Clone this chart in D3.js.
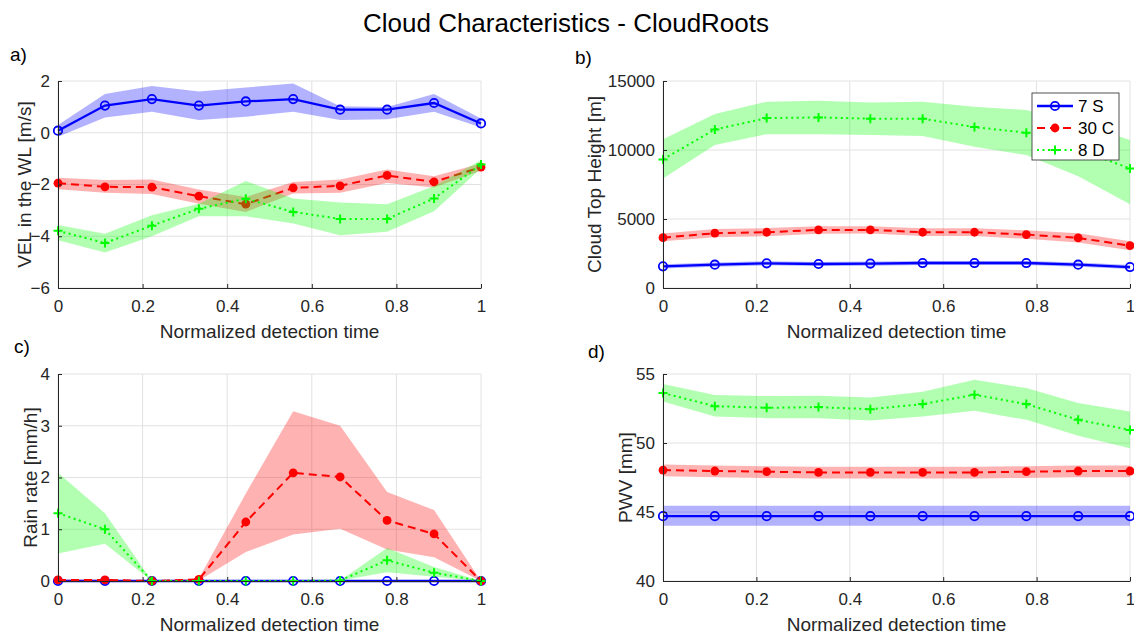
<!DOCTYPE html>
<html>
<head>
<meta charset="utf-8">
<script src="https://cdn.jsdelivr.net/npm/d3@7"></script>
<style>
  body { margin: 0; background: #fff; }
  svg { font-family: "Liberation Sans", Arial, Helvetica, sans-serif; }
</style>
</head>
<body>
<script>
// normalized detection time, 10 steps
const times = [0, 0.111, 0.222, 0.333, 0.444, 0.556, 0.667, 0.778, 0.889, 1];
const seriesNames = ['7 S', '30 C', '8 D'];

// a) vertical velocity in the WL [m/s]
const velS = [0.08, 1.05, 1.30, 1.05, 1.21, 1.30, 0.89, 0.89, 1.15, 0.36];
const velSHi = [0.30, 1.50, 1.81, 1.59, 1.75, 1.90, 1.02, 1.00, 1.50, 0.55];
const velSLo = [-0.15, 0.59, 0.81, 0.49, 0.62, 0.81, 0.49, 0.52, 0.81, 0.20];
const velC = [-1.95, -2.09, -2.10, -2.45, -2.76, -2.13, -2.05, -1.65, -1.90, -1.33];
const velCHi = [-1.74, -1.83, -1.81, -2.19, -2.48, -1.90, -1.81, -1.42, -1.68, -1.19];
const velCLo = [-2.18, -2.32, -2.37, -2.74, -3.06, -2.35, -2.32, -1.94, -2.12, -1.47];
const velD = [-3.79, -4.26, -3.59, -2.94, -2.55, -3.06, -3.33, -3.33, -2.54, -1.23];
const velDHi = [-3.57, -3.90, -3.19, -2.74, -1.86, -2.54, -2.70, -2.76, -2.06, -1.06];
const velDLo = [-4.15, -4.63, -4.00, -3.23, -3.23, -3.51, -3.96, -3.83, -3.03, -1.38];

// b) cloud top height [m]
const cthS = [1570, 1690, 1790, 1740, 1770, 1810, 1810, 1810, 1690, 1520];
const cthSHi = [1720, 1840, 1940, 1890, 1920, 1960, 1960, 1960, 1840, 1670];
const cthSLo = [1420, 1540, 1640, 1590, 1620, 1660, 1660, 1660, 1540, 1370];
const cthC = [3650, 3970, 4040, 4210, 4210, 4040, 4040, 3870, 3630, 3070];
const cthCHi = [3950, 4270, 4340, 4480, 4480, 4330, 4330, 4180, 3970, 3390];
const cthCLo = [3380, 3680, 3750, 3940, 3950, 3760, 3760, 3560, 3290, 2730];
const cthD = [9320, 11490, 12310, 12360, 12270, 12270, 11660, 11250, 10050, 8660];
const cthDHi = [10770, 12600, 13500, 13570, 13450, 13500, 13140, 12900, 11930, 10720];
const cthDLo = [7940, 10360, 11150, 11150, 11080, 11010, 10230, 9630, 8100, 6070];

// c) rain rate [mm/h]
const rainS = [0, 0, 0, 0, 0, 0, 0, 0, 0, 0];
const rainSHi = [0.01, 0.01, 0.01, 0.01, 0.01, 0.01, 0.01, 0.01, 0.01, 0.01];
const rainSLo = [0, 0, 0, 0, 0, 0, 0, 0, 0, 0];
const rainC = [0.02, 0.02, 0, 0.03, 1.14, 2.09, 2.01, 1.17, 0.91, 0];
const rainCHi = [0.03, 0.03, 0, 0.05, 1.69, 3.28, 3.00, 1.72, 1.37, 0];
const rainCLo = [0.01, 0.01, 0, 0.01, 0.56, 0.90, 1.01, 0.61, 0.46, 0];
const rainD = [1.31, 1.00, 0, 0, 0, 0, 0.01, 0.40, 0.16, 0];
const rainDHi = [2.09, 1.31, 0, 0, 0, 0, 0.01, 0.64, 0.27, 0];
const rainDLo = [0.53, 0.72, 0, 0, 0, 0, 0.01, 0.17, 0.08, 0];

// d) precipitable water vapour [mm]
const pwvS = [44.7, 44.7, 44.7, 44.7, 44.7, 44.7, 44.7, 44.7, 44.7, 44.7];
const pwvSHi = [45.45, 45.45, 45.45, 45.45, 45.45, 45.45, 45.45, 45.45, 45.45, 45.45];
const pwvSLo = [44.0, 44.0, 44.0, 44.0, 44.0, 44.0, 44.0, 44.0, 44.0, 44.0];
const pwvC = [48.04, 47.97, 47.92, 47.87, 47.87, 47.87, 47.87, 47.92, 47.97, 47.97];
const pwvCHi = [48.44, 48.37, 48.32, 48.27, 48.27, 48.27, 48.27, 48.32, 48.37, 48.37];
const pwvCLo = [47.59, 47.52, 47.47, 47.42, 47.42, 47.42, 47.42, 47.47, 47.52, 47.52];
const pwvD = [53.62, 52.67, 52.55, 52.60, 52.45, 52.82, 53.50, 52.82, 51.68, 50.95];
const pwvDHi = [54.27, 53.47, 53.40, 53.42, 53.30, 53.71, 54.59, 53.98, 52.89, 52.28];
const pwvDLo = [53.01, 51.92, 51.80, 51.80, 51.63, 51.92, 52.33, 51.68, 50.52, 49.62];

const xTicks = [0, 0.2, 0.4, 0.6, 0.8, 1];

const svgWidth = 1134;
const svgHeight = 637;
const axisColor = '#262626';

const styles = [
    {line: '#0000ff', band: 'rgba(0,0,255,0.3)', dash: null, marker: 'open', width: 2.3},
    {line: '#ff0000', band: 'rgba(255,0,0,0.3)', dash: '8,5', marker: 'dot', width: 2},
    {line: '#00ff00', band: 'rgba(0,255,0,0.3)', dash: '2,3.5', marker: 'plus', width: 2}
];

const panels = [
    {tag: 'a)', tagX: 10, tagY: 61, box: [58, 481, 81, 288], domain: [-6, 2], yTicks: [-6, -4, -2, 0, 2],
        ylabel: 'VEL in the WL [m/s]', ylabelX: 24,
        series: [[velS, velSLo, velSHi], [velC, velCLo, velCHi], [velD, velDLo, velDHi]]},
    {tag: 'b)', tagX: 575, tagY: 64, box: [663, 1130, 81, 288], domain: [0, 15000], yTicks: [0, 5000, 10000, 15000],
        ylabel: 'Cloud Top Height [m]', ylabelX: 594, legend: true,
        series: [[cthS, cthSLo, cthSHi], [cthC, cthCLo, cthCHi], [cthD, cthDLo, cthDHi]]},
    {tag: 'c)', tagX: 14, tagY: 353, box: [58, 481, 374, 581], domain: [0, 4], yTicks: [0, 1, 2, 3, 4],
        ylabel: 'Rain rate [mm/h]', ylabelX: 30,
        series: [[rainS, rainSLo, rainSHi], [rainC, rainCLo, rainCHi], [rainD, rainDLo, rainDHi]]},
    {tag: 'd)', tagX: 588, tagY: 358, box: [663, 1130, 374, 581], domain: [40, 55], yTicks: [40, 45, 50, 55],
        ylabel: 'PWV [mm]', ylabelX: 625,
        series: [[pwvS, pwvSLo, pwvSHi], [pwvC, pwvCLo, pwvCHi], [pwvD, pwvDLo, pwvDHi]]}
];

const svg = d3.select('body')
.append('svg')
.attr('width', svgWidth)
.attr('height', svgHeight)

svg.append('text')
.attr('x', 566)
.attr('y', 32)
.attr('text-anchor', 'middle')
.attr('font-size', 26)
.attr('fill', '#000')
.text('Cloud Characteristics - CloudRoots')

// draws one marker symbol at (x, y)
function drawMarker(g, kind, color, x, y) {
    if (kind === 'open') {
        g.append('circle')
        .attr('cx', x).attr('cy', y).attr('r', 4.2)
        .attr('fill', 'none').attr('stroke', color).attr('stroke-width', 1.8)
    } else if (kind === 'dot') {
        g.append('circle')
        .attr('cx', x).attr('cy', y).attr('r', 4.4)
        .attr('fill', color)
    } else {
        g.append('path')
        .attr('d', `M${x - 4.5},${y}H${x + 4.5}M${x},${y - 4.5}V${y + 4.5}`)
        .attr('stroke', color).attr('stroke-width', 2)
    }
}

panels.forEach((p) => {
    const [left, right, top, bottom] = p.box;
    const x = d3.scaleLinear().domain([0, 1]).range([left, right]);
    const y = d3.scaleLinear().domain(p.domain).range([bottom, top]);
    const g = svg.append('g');

    // grid
    g.append('g').selectAll('line')
    .data(xTicks).enter()
    .append('line')
    .attr('x1', (d) => x(d)).attr('x2', (d) => x(d))
    .attr('y1', top).attr('y2', bottom)
    .attr('stroke', '#e2e2e2')
    g.append('g').selectAll('line')
    .data(p.yTicks).enter()
    .append('line')
    .attr('x1', left).attr('x2', right)
    .attr('y1', (d) => y(d)).attr('y2', (d) => y(d))
    .attr('stroke', '#e2e2e2')

    // bands and lines, one series after the other
    p.series.forEach(([mid, lo, hi], si) => {
        const st = styles[si];
        const rows = times.map((t, i) => ({t, mid: mid[i], lo: lo[i], hi: hi[i]}));
        g.append('path')
        .datum(rows)
        .attr('d', d3.area().x((d) => x(d.t)).y0((d) => y(d.lo)).y1((d) => y(d.hi)))
        .attr('fill', st.band)
        g.append('path')
        .datum(rows)
        .attr('d', d3.line().x((d) => x(d.t)).y((d) => y(d.mid)))
        .attr('fill', 'none')
        .attr('stroke', st.line)
        .attr('stroke-width', st.width)
        .attr('stroke-dasharray', st.dash)
        rows.forEach((d) => drawMarker(g, st.marker, st.line, x(d.t), y(d.mid)));
    });

    // axes, MATLAB style: inward ticks, no box
    const xAxis = g.append('g')
    .attr('transform', `translate(0,${bottom})`)
    .call(d3.axisBottom(x).tickValues(xTicks).tickSizeInner(-4).tickSizeOuter(0).tickPadding(12)
        .tickFormat(d3.format('~g')))
    const yAxis = g.append('g')
    .attr('transform', `translate(${left},0)`)
    .call(d3.axisLeft(y).tickValues(p.yTicks).tickSizeInner(-4).tickSizeOuter(0).tickPadding(8)
        .tickFormat(d3.format('d')))
    ;[xAxis, yAxis].forEach((a) => {
        a.select('.domain').attr('stroke', axisColor)
        a.selectAll('.tick line').attr('stroke', axisColor)
        a.selectAll('.tick text')
        .attr('fill', axisColor)
        .attr('font-size', 17)
        .attr('font-family', '"Liberation Sans", Arial, sans-serif')
    });

    g.append('text')
    .attr('x', (left + right) / 2)
    .attr('y', bottom + 50)
    .attr('text-anchor', 'middle')
    .attr('font-size', 19)
    .attr('fill', axisColor)
    .text('Normalized detection time')

    g.append('text')
    .attr('transform', `translate(${p.ylabelX},${(top + bottom) / 2}) rotate(-90)`)
    .attr('text-anchor', 'middle')
    .attr('dy', '0.35em')
    .attr('font-size', 19)
    .attr('fill', axisColor)
    .text(p.ylabel)

    g.append('text')
    .attr('x', p.tagX)
    .attr('y', p.tagY)
    .attr('font-size', 19)
    .attr('fill', '#000')
    .text(p.tag)

    if (p.legend) {
        const lg = g.append('g');
        lg.append('rect')
        .attr('x', 1032).attr('y', 93)
        .attr('width', 87).attr('height', 67)
        .attr('fill', '#fff')
        .attr('stroke', '#262626')
        .attr('stroke-width', 0.8)
        seriesNames.forEach((name, i) => {
            const st = styles[i];
            const ly = 106 + i * 22;
            lg.append('line')
            .attr('x1', 1037).attr('x2', 1073)
            .attr('y1', ly).attr('y2', ly)
            .attr('stroke', st.line)
            .attr('stroke-width', st.width)
            .attr('stroke-dasharray', st.dash)
            drawMarker(lg, st.marker, st.line, 1055, ly);
            lg.append('text')
            .attr('x', 1078).attr('y', ly)
            .attr('dy', '0.35em')
            .attr('font-size', 17)
            .attr('fill', '#000')
            .text(name)
        });
    }
});
</script>
</body>
</html>
